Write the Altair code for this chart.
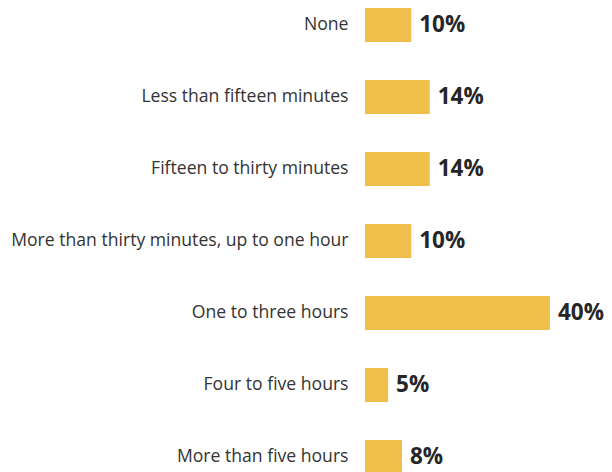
import altair as alt
import pandas as pd

categories = [
    "None",
    "Less than fifteen minutes",
    "Fifteen to thirty minutes",
    "More than thirty minutes, up to one hour",
    "One to three hours",
    "Four to five hours",
    "More than five hours",
]
values = [10, 14, 14, 10, 40, 5, 8]
labels = ["10%", "14%", "14%", "10%", "40%", "5%", "8%"]

df = pd.DataFrame({"category": categories, "value": values, "label": labels})

y = alt.Y(
    "category:N",
    sort=categories,
    axis=alt.Axis(
        title=None, domain=False, ticks=False, labelPadding=17,
        labelFontSize=17.6, labelFont="Open Sans", labelColor="#333333", labelLimit=0,
    ),
    scale=alt.Scale(paddingInner=0.528, paddingOuter=0),
)
x = alt.X("value:Q", axis=None, scale=alt.Scale(domain=[0, 51.7]))

bars = alt.Chart(df).mark_bar(color="#F0BE4B").encode(x=x, y=y)
text = alt.Chart(df).mark_text(
    align="left", dx=8, font="Open Sans", fontSize=22.5, fontWeight="bold", color="#262626"
).encode(x=x, y=y, text="label:N")

chart = (
    (bars + text)
    .properties(
        width=239, height=466,
        padding={"left": 357, "top": 0, "right": 0, "bottom": 0},
        autosize=alt.AutoSizeParams(type="none"),
    )
    .configure_view(stroke=None)
)
chart.save("out.html", embed_options={"renderer": "svg", "actions": False})
